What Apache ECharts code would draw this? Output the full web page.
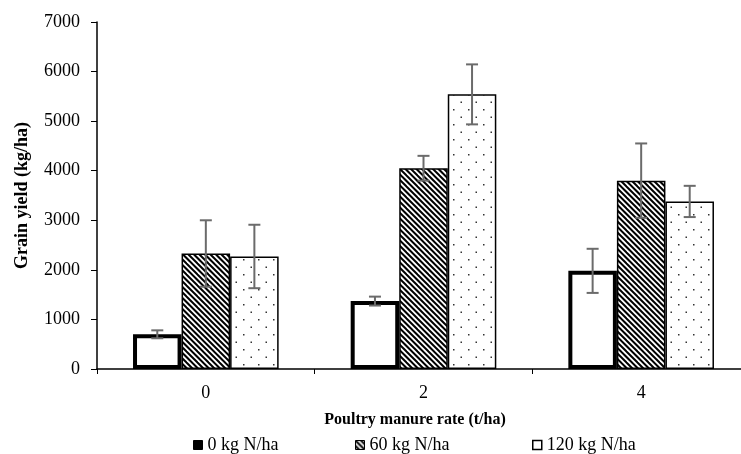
<!DOCTYPE html>
<html><head><meta charset="utf-8">
<script src="https://cdn.jsdelivr.net/npm/echarts@6/dist/echarts.min.js"></script>
<style>html,body{margin:0;padding:0;background:#fff}#c{width:741px;height:454px}</style>
</head><body><div id="c"></div>
<script>
const categories = ['0', '2', '4'];
const seriesNames = ['0 kg N/ha', '60 kg N/ha', '120 kg N/ha'];
const yield0N = [700, 1370, 1980];
const yield60N = [2330, 4050, 3800];
const yield120N = [2270, 5540, 3380];
const err0N = [80, 90, 445];
const err60N = [670, 250, 750];
const err120N = [640, 605, 315];

const FONT = '"Liberation Serif", "Times New Roman", serif';
const FS = 18;
const BAR_FRAC = 0.223;

function hatchPattern() {
  const c = document.createElement('canvas');
  c.width = 11; c.height = 11;
  const g = c.getContext('2d');
  g.fillStyle = '#fff'; g.fillRect(0, 0, 11, 11);
  g.strokeStyle = '#000'; g.lineWidth = 2;
  for (let k = -3; k <= 3; k++) {
    g.beginPath(); g.moveTo(k * 5.5 - 2, -2); g.lineTo(k * 5.5 + 13, 13); g.stroke();
  }
  return c;
}
function dotPattern() {
  const c = document.createElement('canvas');
  c.width = 15; c.height = 15;
  const g = c.getContext('2d');
  g.fillStyle = '#fff'; g.fillRect(0, 0, 15, 15);
  g.fillStyle = '#333';
  g.fillRect(3, 4, 1.5, 1.5);
  g.fillRect(10.5, 11.5, 1.5, 1.5);
  return c;
}
const hatch = { image: hatchPattern(), repeat: 'repeat' };
const dots = { image: dotPattern(), repeat: 'repeat' };

const values = [yield0N, yield60N, yield120N];
const errors = [err0N, err60N, err120N];
const styles = [
  { color: '#fff', borderColor: '#000', borderWidth: 4 },
  { color: hatch, borderColor: '#000', borderWidth: 1.5 },
  { color: dots, borderColor: '#000', borderWidth: 1.5 }
];

const errData = [];
values.forEach((arr, s) => arr.forEach((v, i) => {
  errData.push([i, v - errors[s][i], v + errors[s][i], s]);
}));

const barSeries = values.map((arr, s) => ({
  name: seriesNames[s],
  type: 'bar',
  data: arr,
  barWidth: (BAR_FRAC * 100) + '%',
  barGap: '0%',
  itemStyle: styles[s],
  emphasis: { disabled: true },
  z: s === 0 ? 3 : 2
}));

const legendLefts = [193, 355, 532];
const legendStyles = [
  { color: '#000', borderColor: '#000', borderWidth: 1 },
  { color: hatch, borderColor: '#000', borderWidth: 1 },
  { color: '#fff', borderColor: '#000', borderWidth: 1.5 }
];

const chart = echarts.init(document.getElementById('c'), null, { renderer: 'canvas' });
chart.setOption({
  animation: false,
  backgroundColor: '#fff',
  textStyle: { fontFamily: FONT, color: '#000' },
  grid: { left: 97, right: -9, top: 22, bottom: 85, containLabel: false, outerBoundsMode: 'none' },
  legend: seriesNames.map((n, s) => ({
    left: legendLefts[s], top: 436, padding: 0,
    itemWidth: 9, itemHeight: 9, icon: 'rect',
    selectedMode: false,
    textStyle: { fontFamily: FONT, fontSize: FS, color: '#000' },
    data: [{ name: n, itemStyle: legendStyles[s] }]
  })),
  xAxis: {
    type: 'category',
    data: categories,
    boundaryGap: true,
    axisLine: { lineStyle: { color: '#000', width: 1.5 } },
    axisTick: { show: true, alignWithLabel: false, length: 5, lineStyle: { color: '#000', width: 1 } },
    axisLabel: { fontFamily: FONT, fontSize: FS, color: '#000', margin: 15 },
    splitLine: { show: false }
  },
  yAxis: {
    type: 'value',
    min: 0, max: 7000, interval: 1000,
    name: 'Grain yield (kg/ha)',
    nameLocation: 'middle',
    nameGap: 66,
    nameTextStyle: { fontFamily: FONT, fontSize: FS, fontWeight: 'bold', color: '#000' },
    axisLine: { show: true, lineStyle: { color: '#000', width: 1.5 } },
    axisTick: { show: true, length: 6, lineStyle: { color: '#000', width: 1 } },
    axisLabel: { fontFamily: FONT, fontSize: FS, color: '#000', margin: 17, formatter: v => String(v) },
    splitLine: { show: false }
  },
  graphic: [{
    type: 'text', x: 415, y: 420,
    style: { text: 'Poultry manure rate (t/ha)', font: 'bold 16px ' + FONT, fill: '#000', textAlign: 'center', textVerticalAlign: 'middle' }
  }],
  series: barSeries.concat([{
    type: 'custom',
    name: 'err',
    data: errData,
    z: 10,
    silent: true,
    encode: { x: 0, y: [1, 2] },
    renderItem: function (params, api) {
      const x = api.value(0), lo = api.value(1), hi = api.value(2), k = api.value(3);
      const band = api.size([1, 0])[0];
      const p = api.coord([x, hi]);
      const q = api.coord([x, lo]);
      const cx = p[0] + (k - 1) * band * BAR_FRAC;
      const st = { stroke: '#6b6b6b', lineWidth: 2 };
      return {
        type: 'group',
        children: [
          { type: 'line', shape: { x1: cx, y1: p[1], x2: cx, y2: q[1] }, style: st },
          { type: 'line', shape: { x1: cx - 6, y1: p[1], x2: cx + 6, y2: p[1] }, style: st },
          { type: 'line', shape: { x1: cx - 6, y1: q[1], x2: cx + 6, y2: q[1] }, style: st }
        ]
      };
    }
  }])
});
</script>
</body></html>
